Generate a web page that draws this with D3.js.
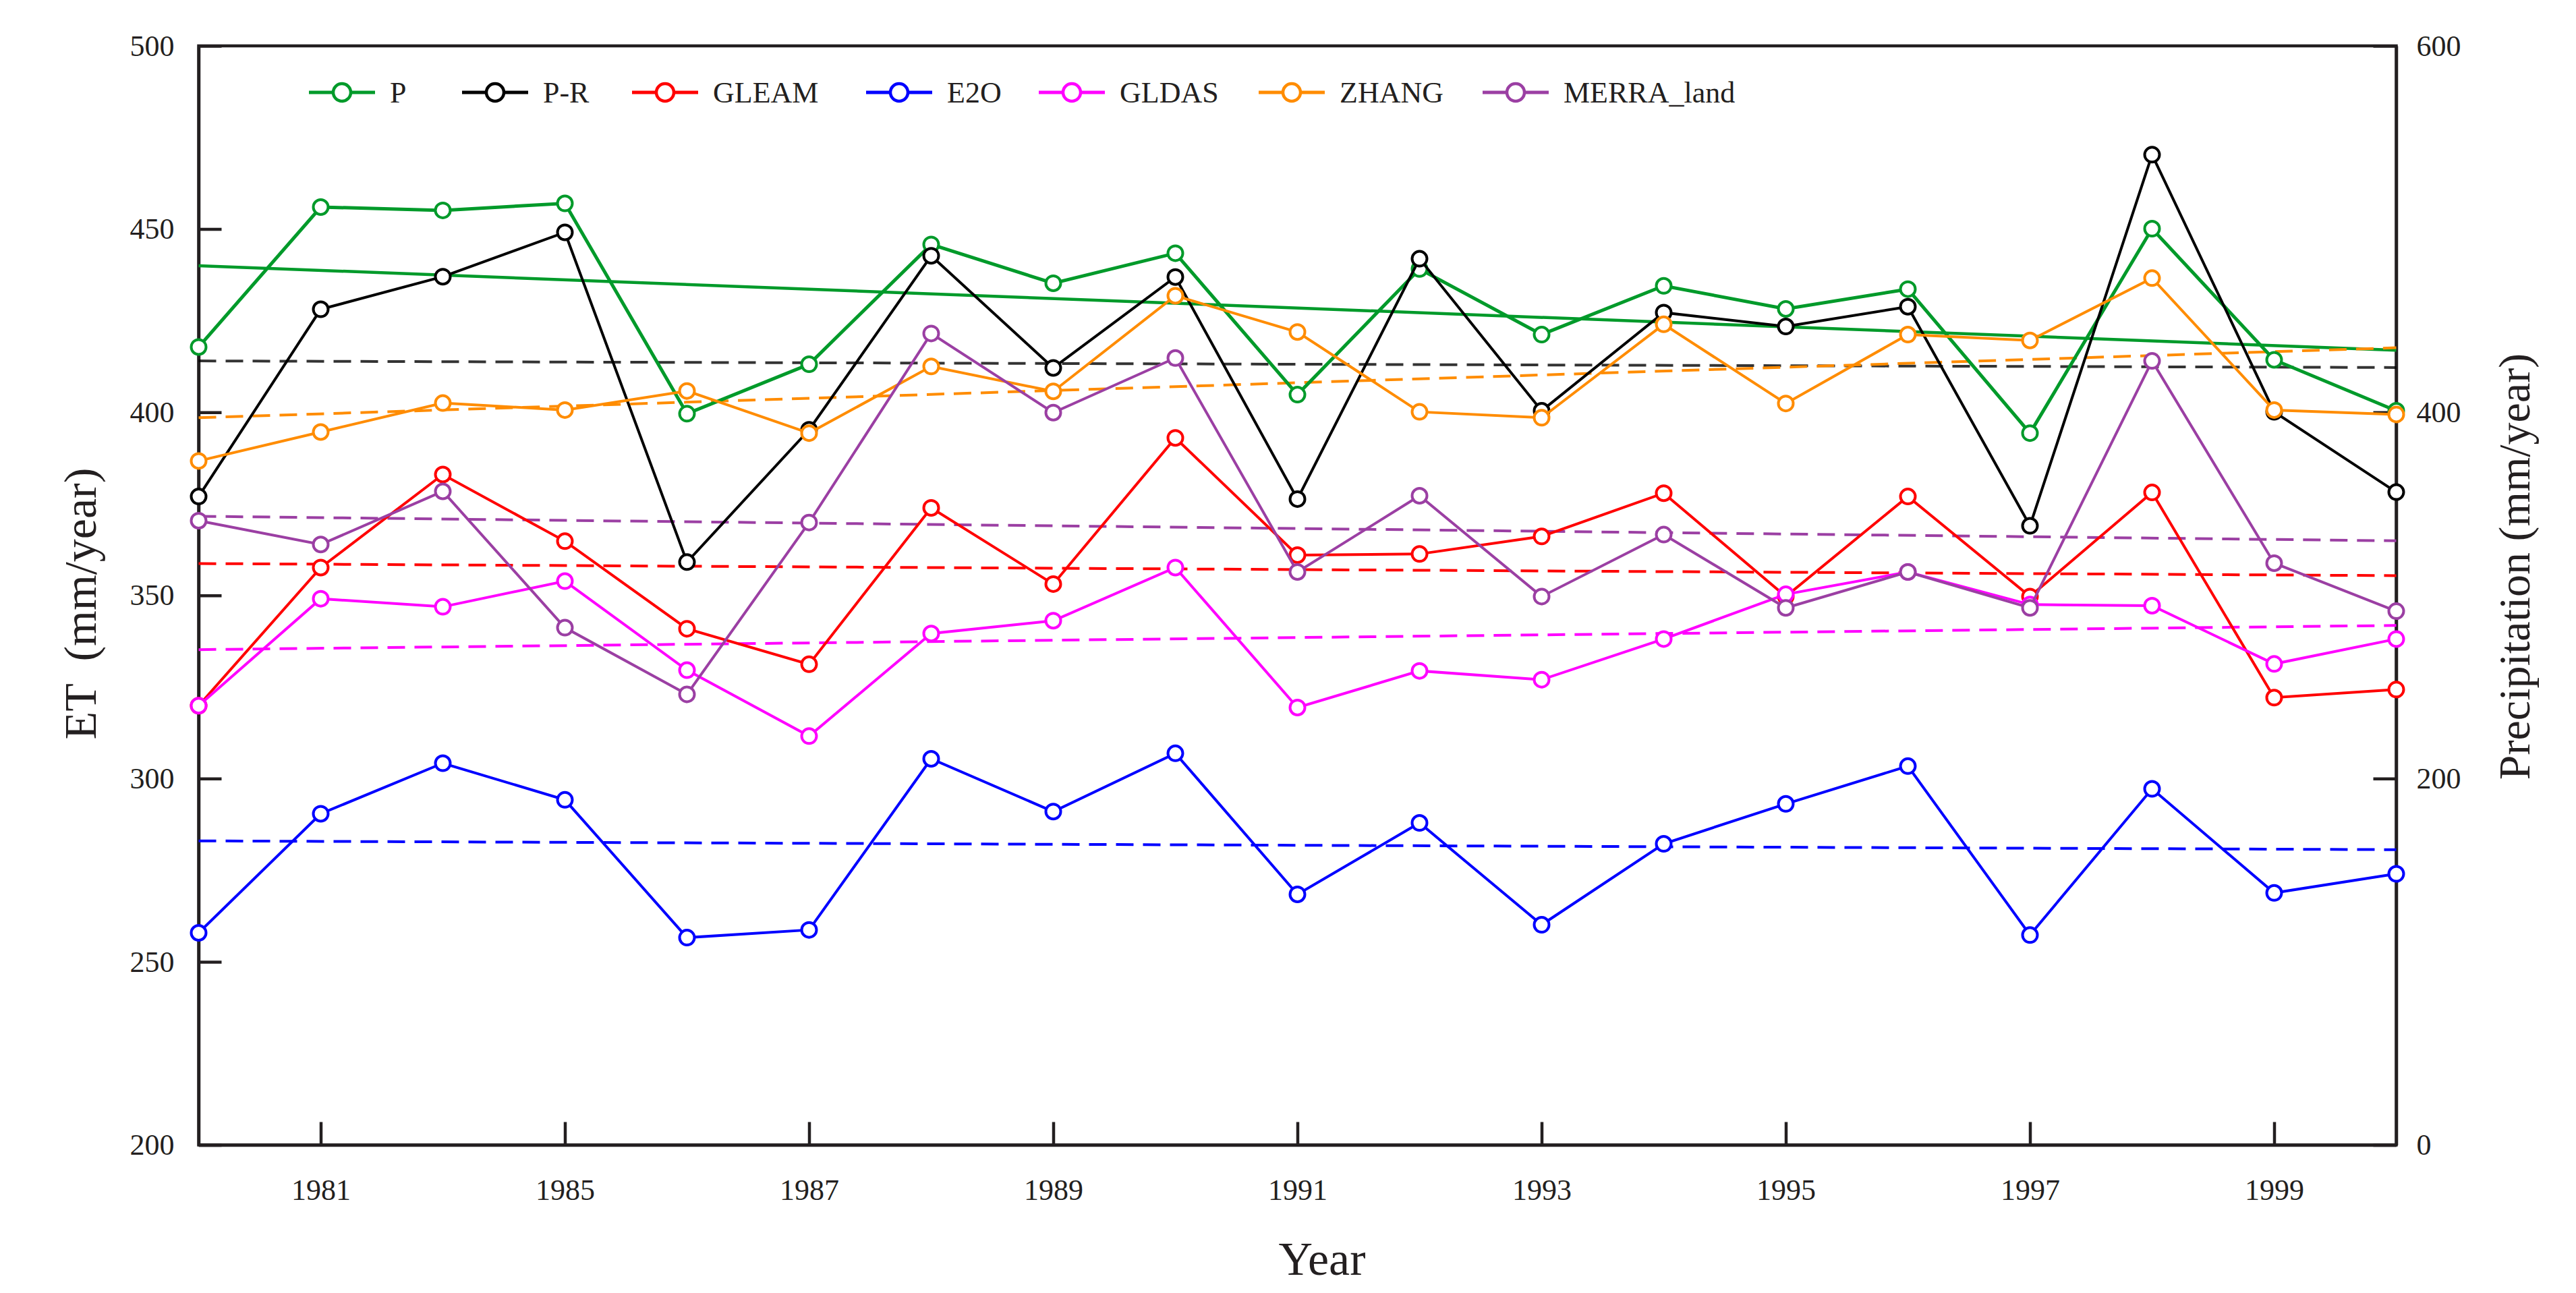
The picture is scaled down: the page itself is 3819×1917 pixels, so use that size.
<!DOCTYPE html>
<html>
<head>
<meta charset="utf-8">
<script src="https://cdn.jsdelivr.net/npm/d3@7"></script>
<style>
  body { margin: 0; background: #fff; }
  text { font-family: "Liberation Serif", "DejaVu Serif", serif; fill: #231f20; }
</style>
</head>
<body>
<div id="main"></div>
<script>
// x positions are year slots 0..18, ticks every second slot
var slots = d3.range(19);
var xTickSlots = [1, 3, 5, 7, 9, 11, 13, 15, 17];
var xTickLabels = ["1981", "1985", "1987", "1989", "1991", "1993", "1995", "1997", "1999"];
var etTicks = [200, 250, 300, 350, 400, 450, 500];
var precipTicks = [0, 200, 400, 600];

var seriesNames = ["P", "P-R", "GLEAM", "E2O", "GLDAS", "ZHANG", "MERRA_land"];
var seriesColors = ["#009a2a", "#000000", "#ff0000", "#0000ff", "#ff00ff", "#ff8c00", "#9b3fa3"];
var seriesAxis = ["right", "left", "left", "left", "left", "left", "left"];

// P is read on the precipitation axis, the rest on the ET axis
var P = [435.6, 512.0, 510.2, 514.0, 399.2, 426.2, 491.6, 470.4, 486.8, 409.6, 478.2, 442.4, 469.0, 456.4, 467.2, 388.6, 500.2, 428.6, 400.8];
var PR = [377.0, 428.1, 437.0, 449.1, 359.1, 395.2, 442.7, 412.1, 436.9, 376.3, 441.9, 400.4, 427.2, 423.4, 428.8, 369.0, 470.3, 400.1, 378.2];
var GLEAM = [319.9, 357.6, 383.0, 364.8, 340.9, 331.2, 373.9, 353.1, 393.0, 361.0, 361.3, 366.1, 377.9, 349.7, 377.0, 349.7, 378.1, 322.1, 324.3];
var E2O = [257.9, 290.4, 304.2, 294.2, 256.6, 258.7, 305.4, 291.0, 306.9, 268.4, 287.9, 260.1, 282.2, 293.1, 303.4, 257.3, 297.2, 268.8, 274.0];
var GLDAS = [319.9, 349.1, 346.9, 353.9, 329.6, 311.6, 339.6, 343.1, 357.6, 319.4, 329.4, 327.0, 338.1, 350.3, 356.4, 347.5, 347.2, 331.3, 338.1];
var ZHANG = [386.7, 394.6, 402.5, 400.6, 405.8, 394.3, 412.5, 405.7, 431.8, 421.9, 400.1, 398.5, 424.0, 402.4, 421.2, 419.6, 436.6, 400.6, 399.4];
var MERRA = [370.4, 363.9, 378.4, 341.2, 323.0, 369.9, 421.5, 399.9, 414.8, 356.4, 377.2, 349.7, 366.6, 346.6, 356.4, 346.6, 414.0, 358.8, 345.7];

// linear trend end points (first slot, last slot)
var trendStart = [480.0, 414.0, 358.7, 283.0, 335.2, 398.5, 371.6];
var trendEnd = [433.8, 412.2, 355.4, 280.6, 341.8, 417.6, 364.9];

var seriesValues = [P, PR, GLEAM, E2O, GLDAS, ZHANG, MERRA];

var W = 3819, H = 1917;
var margin = { top: 68, right: 266.5, bottom: 219.5, left: 294.5 },
  width = W - margin.left - margin.right,
  height = H - margin.top - margin.bottom;

var svg = d3.select('#main')
  .append("svg")
  .attr('width', W)
  .attr('height', H)
  .append("g")
  .attr("transform", "translate(" + margin.left + "," + margin.top + ")");

var xScale = d3.scaleLinear().domain([0, 18]).range([0, width]);
var yLeft = d3.scaleLinear().domain([200, 500]).range([height, 0]);
var yRight = d3.scaleLinear().domain([0, 600]).range([height, 0]);

function yFor(i) { return seriesAxis[i] === "right" ? yRight : yLeft; }

// frame
svg.append("rect")
  .attr("width", width)
  .attr("height", height)
  .attr("fill", "none")
  .attr("stroke", "#231f20")
  .attr("stroke-width", 4.5);

var axisLeft = svg.append("g")
  .call(d3.axisLeft(yLeft).tickValues(etTicks).tickSizeInner(-34).tickSizeOuter(0).tickPadding(36));

var axisRight = svg.append("g")
  .attr("transform", "translate(" + width + ",0)")
  .call(d3.axisRight(yRight).tickValues(precipTicks).tickSizeInner(-34).tickSizeOuter(0).tickPadding(30));

var axisBottom = svg.append("g")
  .attr("transform", "translate(0," + height + ")")
  .call(d3.axisBottom(xScale).tickValues(xTickSlots).tickSizeInner(-34).tickSizeOuter(0).tickPadding(50)
    .tickFormat(function (d, i) { return xTickLabels[i]; }));

[axisLeft, axisRight, axisBottom].forEach(function (a) {
  a.selectAll("path").attr("stroke", "#231f20").attr("stroke-width", 4.5);
  a.selectAll("line").attr("stroke", "#231f20").attr("stroke-width", 4.5);
  a.selectAll("text")
    .style("font-family", '"Liberation Serif", serif')
    .style("font-size", "44px")
    .attr("fill", "#231f20");
});

// axis titles
svg.append("text")
  .attr("transform", "translate(" + (118 - margin.left) + "," + (895 - margin.top) + ")rotate(-90)")
  .attr("dy", "0.35em")
  .style("text-anchor", "middle")
  .style("font-size", "68px")
  .style("white-space", "pre")
  .text("ET  (mm/year)");

svg.append("text")
  .attr("transform", "translate(" + (3727 - margin.left) + "," + (840 - margin.top) + ")rotate(-90)")
  .attr("dy", "0.35em")
  .style("text-anchor", "middle")
  .style("font-size", "66px")
  .text("Precipitation (mm/year)");

svg.append("text")
  .attr("x", 1960 - margin.left)
  .attr("y", 1890 - margin.top)
  .style("text-anchor", "middle")
  .style("font-size", "70px")
  .text("Year");

// trend lines
seriesNames.forEach(function (name, i) {
  var y = yFor(i);
  svg.append("line")
    .attr("x1", xScale(0))
    .attr("x2", xScale(18))
    .attr("y1", y(trendStart[i]))
    .attr("y2", y(trendEnd[i]))
    .attr("stroke", seriesColors[i])
    .attr("stroke-opacity", i === 1 ? 0.8 : 1)
    .attr("stroke-width", i === 0 ? 4.5 : 4)
    .attr("stroke-dasharray", i === 0 ? null : "26,14");
});

// series lines and markers
seriesNames.forEach(function (name, i) {
  var y = yFor(i);
  var line = d3.line()
    .x(function (d, j) { return xScale(slots[j]); })
    .y(function (d) { return y(d); });

  svg.append("path")
    .datum(seriesValues[i])
    .attr("d", line)
    .attr("fill", "none")
    .attr("stroke", seriesColors[i])
    .attr("stroke-width", i === 0 ? 5 : 4);

  svg.append("g")
    .selectAll("circle")
    .data(seriesValues[i])
    .enter()
    .append("circle")
    .attr("cx", function (d, j) { return xScale(slots[j]); })
    .attr("cy", function (d) { return y(d); })
    .attr("r", 11)
    .attr("fill", "#fff")
    .attr("stroke", seriesColors[i])
    .attr("stroke-width", 4);
});

// legend
var legendX = [458, 685, 937, 1284, 1540, 1866, 2198];
var legendY = 137 - margin.top;

var legend = svg.selectAll('.legend')
  .data(seriesNames)
  .enter()
  .append("g")
  .attr("class", "legend")
  .attr("transform", function (d, i) {
    return "translate(" + (legendX[i] - margin.left) + "," + legendY + ")";
  });

legend.append("line")
  .attr("x1", 0)
  .attr("x2", 98)
  .attr("stroke", function (d, i) { return seriesColors[i]; })
  .attr("stroke-width", 5);

legend.append("circle")
  .attr("cx", 49)
  .attr("r", 13)
  .attr("fill", "#fff")
  .attr("stroke", function (d, i) { return seriesColors[i]; })
  .attr("stroke-width", 4.5);

legend.append("text")
  .attr("x", 120)
  .attr("dy", "0.35em")
  .style("font-size", "44px")
  .text(function (d) { return d; });
</script>
</body>
</html>
